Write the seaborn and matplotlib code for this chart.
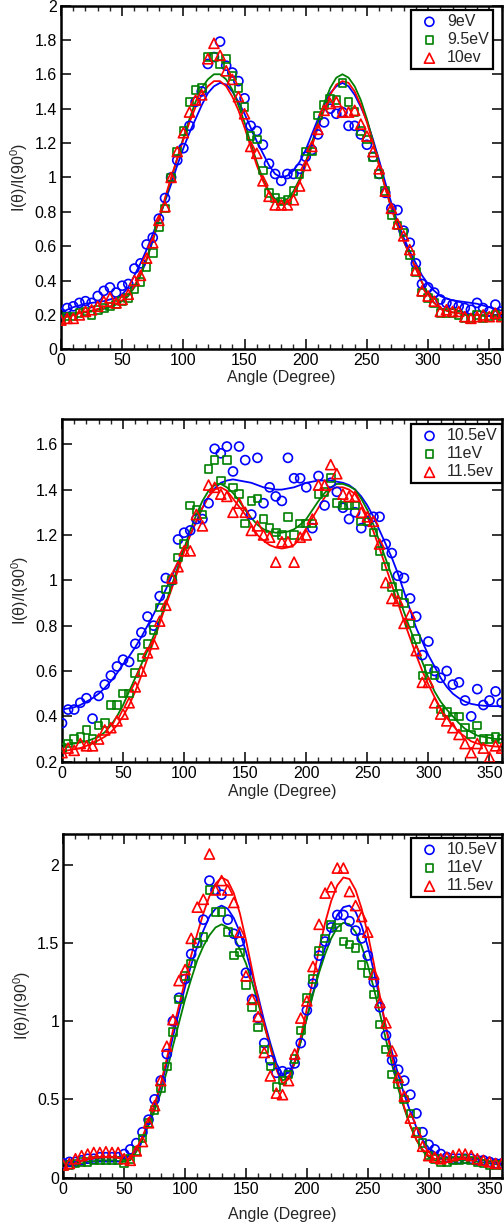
import numpy as np
import pandas as pd
import matplotlib
matplotlib.use("Agg")
import matplotlib.pyplot as plt
import seaborn as sns
from matplotlib.ticker import MultipleLocator, FixedLocator

sns.set_style("ticks")
plt.rcParams["font.family"] = ["Liberation Sans", "DejaVu Sans"]
plt.rcParams["mathtext.fontset"] = "custom"
plt.rcParams["mathtext.rm"] = "Liberation Sans"
plt.rcParams["mathtext.it"] = "Liberation Sans:italic"

angle = list(range(0, 361, 5))

# ---------------- Panel 1 ----------------
p1_labels = ["9eV", "9.5eV", "10ev"]
p1_pts_a = [0.21, 0.24, 0.25, 0.27, 0.28, 0.27, 0.31, 0.34, 0.36, 0.33, 0.37, 0.38, 0.47, 0.50, 0.61, 0.65, 0.76, 0.88, 1.00,
            1.10, 1.17, 1.30, 1.44, 1.50, 1.66, 1.70, 1.79, 1.65, 1.61, 1.56, 1.46, 1.30, 1.27, 1.19, 1.08, 1.02, 0.98,
            1.02, 1.02, 1.05, 1.12, 1.16, 1.25, 1.32, 1.40, 1.37, 1.38, 1.30, 1.30, 1.25, 1.19, 1.12, 1.02, 0.91, 0.82,
            0.81, 0.69, 0.62, 0.50, 0.38, 0.36, 0.33, 0.29, 0.27, 0.26, 0.25, 0.24, 0.23, 0.27, 0.24, 0.22, 0.26, 0.22]
p1_pts_b = [0.17, 0.19, 0.19, 0.21, 0.22, 0.20, 0.23, 0.24, 0.25, 0.26, 0.28, 0.30, 0.35, 0.39, 0.48, 0.56, 0.71, 0.82, 1.00,
            1.15, 1.27, 1.44, 1.51, 1.52, 1.70, 1.70, 1.66, 1.69, 1.59, 1.52, 1.41, 1.24, 1.22, 1.04, 0.91, 0.88, 0.86,
            0.87, 0.92, 1.02, 1.15, 1.15, 1.36, 1.42, 1.46, 1.45, 1.55, 1.44, 1.38, 1.27, 1.22, 1.12, 1.02, 0.92, 0.78,
            0.72, 0.68, 0.55, 0.45, 0.33, 0.30, 0.27, 0.21, 0.21, 0.21, 0.20, 0.18, 0.18, 0.20, 0.18, 0.19, 0.20, 0.19]
p1_pts_c = [0.17, 0.18, 0.18, 0.20, 0.22, 0.23, 0.25, 0.28, 0.30, 0.27, 0.29, 0.32, 0.40, 0.43, 0.53, 0.62, 0.75, 0.83, 1.00,
            1.15, 1.26, 1.38, 1.45, 1.48, 1.69, 1.78, 1.71, 1.62, 1.57, 1.47, 1.37, 1.18, 1.14, 0.98, 0.89, 0.84, 0.84,
            0.84, 0.87, 0.95, 1.07, 1.18, 1.28, 1.39, 1.43, 1.44, 1.38, 1.38, 1.39, 1.31, 1.24, 1.15, 1.05, 0.92, 0.82,
            0.73, 0.66, 0.58, 0.46, 0.34, 0.31, 0.28, 0.22, 0.23, 0.22, 0.22, 0.19, 0.18, 0.19, 0.20, 0.19, 0.21, 0.19]
p1_fit_a = [0.21, 0.23, 0.245, 0.255, 0.265, 0.27, 0.275, 0.28, 0.29, 0.30, 0.32, 0.36, 0.43, 0.50, 0.58, 0.67, 0.76, 0.86, 0.96,
            1.07, 1.17, 1.26, 1.34, 1.42, 1.49, 1.53, 1.55, 1.54, 1.50, 1.44, 1.37, 1.29, 1.21, 1.14, 1.07, 1.02, 1.00,
            1.01, 1.04, 1.09, 1.16, 1.25, 1.34, 1.42, 1.49, 1.53, 1.55, 1.53, 1.48, 1.41, 1.33, 1.22, 1.10, 0.97, 0.85,
            0.74, 0.65, 0.57, 0.50, 0.43, 0.38, 0.34, 0.31, 0.295, 0.285, 0.28, 0.275, 0.27, 0.265, 0.255, 0.245, 0.235, 0.225]
p1_fit_b = [0.18, 0.19, 0.20, 0.21, 0.215, 0.22, 0.23, 0.235, 0.245, 0.26, 0.28, 0.31, 0.36, 0.43, 0.52, 0.63, 0.75, 0.87, 0.99,
            1.11, 1.23, 1.34, 1.44, 1.52, 1.57, 1.60, 1.60, 1.57, 1.51, 1.42, 1.32, 1.20, 1.09, 0.99, 0.92, 0.875, 0.86,
            0.875, 0.92, 0.99, 1.09, 1.20, 1.32, 1.43, 1.52, 1.58, 1.60, 1.58, 1.53, 1.45, 1.34, 1.21, 1.07, 0.94, 0.82,
            0.72, 0.63, 0.55, 0.47, 0.39, 0.32, 0.27, 0.24, 0.225, 0.215, 0.21, 0.205, 0.20, 0.20, 0.195, 0.195, 0.19, 0.19]
p1_fit_c = [0.18, 0.19, 0.20, 0.21, 0.22, 0.225, 0.235, 0.24, 0.25, 0.265, 0.285, 0.32, 0.37, 0.44, 0.53, 0.64, 0.76, 0.88, 1.00,
            1.11, 1.22, 1.32, 1.41, 1.48, 1.53, 1.56, 1.56, 1.53, 1.47, 1.39, 1.29, 1.18, 1.07, 0.98, 0.91, 0.86, 0.845,
            0.855, 0.90, 0.97, 1.07, 1.18, 1.29, 1.39, 1.48, 1.54, 1.56, 1.55, 1.50, 1.42, 1.32, 1.20, 1.07, 0.94, 0.82,
            0.72, 0.63, 0.55, 0.47, 0.39, 0.32, 0.27, 0.24, 0.225, 0.215, 0.21, 0.205, 0.20, 0.20, 0.195, 0.195, 0.19, 0.19]

# ---------------- Panel 2 ----------------
p2_labels = ["10.5eV", "11eV", "11.5ev"]
p2_pts_a = [0.37, 0.43, 0.43, 0.46, 0.48, 0.39, 0.49, 0.54, 0.58, 0.62, 0.65, 0.64, 0.72, 0.77, 0.84, 0.80, 0.93, 1.01, 1.00,
            1.18, 1.21, 1.22, 1.27, 1.27, 1.34, 1.58, 1.56, 1.59, 1.48, 1.59, 1.53, 1.29, 1.54, 1.34, 1.41, 1.37, 1.35,
            1.54, 1.45, 1.45, 1.41, 1.23, 1.46, 1.33, 1.43, 1.39, 1.32, 1.27, 1.30, 1.23, 1.26, 1.28, 1.28, 1.16, 1.12,
            1.02, 1.01, 0.92, 0.84, 0.67, 0.73, 0.60, 0.57, 0.60, 0.54, 0.55, 0.47, 0.40, 0.52, 0.45, 0.47, 0.51, 0.46]
p2_pts_b = [0.26, 0.28, 0.30, 0.31, 0.34, 0.30, 0.36, 0.37, 0.45, 0.45, 0.50, 0.50, 0.59, 0.66, 0.72, 0.78, 0.88, 0.96, 1.00,
            1.10, 1.16, 1.33, 1.31, 1.29, 1.49, 1.53, 1.44, 1.53, 1.41, 1.38, 1.25, 1.35, 1.36, 1.27, 1.23, 1.21, 1.20,
            1.28, 1.20, 1.25, 1.25, 1.25, 1.38, 1.39, 1.45, 1.34, 1.33, 1.33, 1.33, 1.26, 1.26, 1.21, 1.13, 1.06, 0.97,
            0.94, 0.90, 0.81, 0.74, 0.58, 0.61, 0.58, 0.43, 0.42, 0.40, 0.40, 0.35, 0.32, 0.36, 0.30, 0.30, 0.31, 0.30]
p2_pts_c = [0.24, 0.26, 0.25, 0.28, 0.27, 0.27, 0.30, 0.34, 0.35, 0.38, 0.41, 0.46, 0.53, 0.60, 0.68, 0.72, 0.82, 0.89, 1.01,
            1.06, 1.13, 1.13, 1.29, 1.24, 1.42, 1.41, 1.38, 1.37, 1.30, 1.34, 1.30, 1.22, 1.24, 1.20, 1.19, 1.08, 1.17,
            1.17, 1.08, 1.19, 1.20, 1.27, 1.42, 1.42, 1.51, 1.47, 1.38, 1.37, 1.37, 1.30, 1.28, 1.26, 1.16, 0.99, 0.92,
            0.91, 0.81, 0.85, 0.69, 0.55, 0.55, 0.46, 0.41, 0.38, 0.35, 0.32, 0.28, 0.24, 0.28, 0.26, 0.22, 0.27, 0.26]
p2_fit_a = [0.43, 0.435, 0.44, 0.45, 0.465, 0.48, 0.50, 0.525, 0.555, 0.59, 0.63, 0.665, 0.705, 0.75, 0.80, 0.85, 0.905, 0.96, 1.02,
            1.08, 1.14, 1.20, 1.26, 1.32, 1.37, 1.405, 1.43, 1.44, 1.445, 1.44, 1.435, 1.43, 1.42, 1.41, 1.405, 1.40, 1.40,
            1.405, 1.41, 1.42, 1.43, 1.435, 1.44, 1.44, 1.44, 1.435, 1.43, 1.42, 1.40, 1.37, 1.33, 1.28, 1.22, 1.16, 1.10,
            1.03, 0.95, 0.87, 0.79, 0.73, 0.67, 0.62, 0.57, 0.53, 0.50, 0.48, 0.465, 0.455, 0.45, 0.447, 0.445, 0.445, 0.445]
p2_fit_b = [0.27, 0.275, 0.28, 0.285, 0.29, 0.30, 0.31, 0.33, 0.36, 0.40, 0.45, 0.51, 0.57, 0.63, 0.69, 0.755, 0.825, 0.90, 0.98,
            1.06, 1.14, 1.22, 1.29, 1.35, 1.395, 1.42, 1.425, 1.41, 1.385, 1.35, 1.31, 1.275, 1.245, 1.225, 1.215, 1.21, 1.21,
            1.215, 1.225, 1.245, 1.27, 1.31, 1.35, 1.385, 1.41, 1.425, 1.425, 1.415, 1.40, 1.36, 1.31, 1.245, 1.17, 1.095, 1.02,
            0.94, 0.86, 0.785, 0.715, 0.64, 0.57, 0.51, 0.465, 0.43, 0.40, 0.37, 0.345, 0.33, 0.315, 0.31, 0.305, 0.30, 0.30]
p2_fit_c = [0.245, 0.25, 0.255, 0.26, 0.27, 0.28, 0.295, 0.31, 0.33, 0.36, 0.40, 0.45, 0.51, 0.58, 0.655, 0.73, 0.81, 0.89, 0.965,
            1.045, 1.125, 1.20, 1.26, 1.32, 1.37, 1.40, 1.41, 1.395, 1.36, 1.325, 1.29, 1.245, 1.20, 1.175, 1.155, 1.145, 1.14,
            1.145, 1.156, 1.185, 1.23, 1.275, 1.32, 1.365, 1.40, 1.41, 1.41, 1.40, 1.38, 1.335, 1.28, 1.215, 1.14, 1.06, 0.98,
            0.90, 0.82, 0.745, 0.67, 0.60, 0.54, 0.485, 0.435, 0.395, 0.36, 0.33, 0.31, 0.29, 0.28, 0.275, 0.27, 0.267, 0.266]

# ---------------- Panel 3 ----------------
p3_labels = ["10.5eV", "11eV", "11.5ev"]
p3_pts_a = [0.09, 0.10, 0.10, 0.11, 0.12, 0.12, 0.13, 0.13, 0.13, 0.13, 0.15, 0.18, 0.22, 0.29, 0.37, 0.50, 0.62, 0.79, 1.00,
            1.15, 1.27, 1.43, 1.50, 1.65, 1.90, 1.84, 1.81, 1.65, 1.56, 1.51, 1.31, 1.14, 1.02, 0.86, 0.75, 0.67, 0.68,
            0.67, 0.73, 0.86, 1.07, 1.24, 1.42, 1.51, 1.60, 1.68, 1.68, 1.64, 1.58, 1.53, 1.42, 1.25, 1.09, 0.91, 0.75,
            0.69, 0.62, 0.53, 0.41, 0.29, 0.21, 0.18, 0.15, 0.13, 0.12, 0.12, 0.12, 0.12, 0.11, 0.11, 0.10, 0.09, 0.09]
p3_pts_b = [0.07, 0.08, 0.09, 0.10, 0.10, 0.11, 0.11, 0.11, 0.11, 0.11, 0.09, 0.12, 0.17, 0.25, 0.35, 0.43, 0.57, 0.71, 0.93,
            1.14, 1.29, 1.37, 1.50, 1.54, 1.84, 1.70, 1.70, 1.57, 1.42, 1.44, 1.23, 1.09, 0.96, 0.82, 0.71, 0.58, 0.62,
            0.66, 0.76, 0.94, 1.15, 1.27, 1.45, 1.53, 1.62, 1.60, 1.51, 1.49, 1.47, 1.36, 1.31, 1.17, 0.98, 0.82, 0.66,
            0.60, 0.50, 0.41, 0.29, 0.22, 0.14, 0.12, 0.10, 0.10, 0.11, 0.11, 0.12, 0.11, 0.10, 0.09, 0.08, 0.08, 0.08]
p3_pts_c = [0.08, 0.09, 0.12, 0.14, 0.15, 0.16, 0.16, 0.165, 0.16, 0.16, 0.12, 0.11, 0.17, 0.23, 0.35, 0.46, 0.62, 0.84, 1.01,
            1.26, 1.33, 1.53, 1.73, 1.78, 2.07, 1.84, 1.90, 1.84, 1.76, 1.57, 1.29, 1.14, 1.03, 0.80, 0.65, 0.54, 0.53,
            0.62, 0.79, 1.02, 1.13, 1.35, 1.62, 1.82, 1.86, 1.98, 1.98, 1.83, 1.74, 1.67, 1.57, 1.30, 1.12, 0.99, 0.81,
            0.64, 0.52, 0.38, 0.29, 0.20, 0.14, 0.13, 0.12, 0.13, 0.14, 0.15, 0.15, 0.14, 0.12, 0.11, 0.10, 0.09, 0.09]
p3_fit_a = [0.09, 0.095, 0.10, 0.11, 0.115, 0.12, 0.125, 0.13, 0.13, 0.13, 0.13, 0.14, 0.18, 0.25, 0.35, 0.46, 0.58, 0.73, 0.90,
            1.06, 1.22, 1.36, 1.48, 1.58, 1.67, 1.72, 1.74, 1.72, 1.66, 1.57, 1.445, 1.30, 1.16, 1.00, 0.86, 0.73, 0.66,
            0.67, 0.74, 0.87, 1.02, 1.18, 1.33, 1.47, 1.59, 1.68, 1.73, 1.74, 1.70, 1.61, 1.48, 1.32, 1.14, 0.96, 0.80,
            0.66, 0.53, 0.42, 0.32, 0.24, 0.19, 0.16, 0.14, 0.13, 0.125, 0.12, 0.12, 0.12, 0.115, 0.11, 0.10, 0.095, 0.09]
p3_fit_b = [0.07, 0.075, 0.08, 0.09, 0.10, 0.105, 0.11, 0.11, 0.11, 0.105, 0.10, 0.11, 0.165, 0.24, 0.335, 0.43, 0.54, 0.68, 0.84,
            0.99, 1.14, 1.27, 1.39, 1.48, 1.55, 1.60, 1.62, 1.60, 1.54, 1.46, 1.37, 1.25, 1.115, 0.97, 0.84, 0.70, 0.62,
            0.64, 0.73, 0.87, 1.02, 1.17, 1.31, 1.43, 1.53, 1.60, 1.63, 1.62, 1.57, 1.48, 1.36, 1.21, 1.05, 0.88, 0.72,
            0.57, 0.44, 0.33, 0.24, 0.17, 0.13, 0.11, 0.10, 0.10, 0.105, 0.11, 0.11, 0.11, 0.10, 0.095, 0.09, 0.085, 0.08]
p3_fit_c = [0.08, 0.085, 0.095, 0.105, 0.115, 0.125, 0.13, 0.13, 0.13, 0.125, 0.115, 0.12, 0.18, 0.26, 0.36, 0.47, 0.60, 0.76, 0.94,
            1.10, 1.26, 1.42, 1.56, 1.69, 1.80, 1.88, 1.92, 1.90, 1.82, 1.69, 1.52, 1.33, 1.14, 0.98, 0.83, 0.69, 0.60,
            0.63, 0.74, 0.90, 1.08, 1.27, 1.46, 1.63, 1.77, 1.87, 1.92, 1.91, 1.84, 1.72, 1.56, 1.37, 1.16, 0.96, 0.77,
            0.60, 0.45, 0.33, 0.24, 0.18, 0.14, 0.12, 0.115, 0.115, 0.12, 0.125, 0.13, 0.125, 0.12, 0.11, 0.10, 0.09, 0.085]

p1_yticks = [0, 0.2, 0.4, 0.6, 0.8, 1, 1.2, 1.4, 1.6, 1.8, 2]
p1_yticklabels = ["0", "0.2", "0.4", "0.6", "0.8", "1", "1.2", "1.4", "1.6", "1.8", "2"]
p2_yticks = [0.2, 0.4, 0.6, 0.8, 1, 1.2, 1.4, 1.6]
p2_yticklabels = ["0.2", "0.4", "0.6", "0.8", "1", "1.2", "1.4", "1.6"]
p3_yticks = [0, 0.5, 1, 1.5, 2]
p3_yticklabels = ["0", "0.5", "1", "1.5", "2"]
xticks = [0, 50, 100, 150, 200, 250, 300, 350]
xticklabels = ["0", "50", "100", "150", "200", "250", "300", "350"]

colors = ["#0000ff", "#008000", "#ff0000"]
markers = ["o", "s", "^"]
msizes = [42, 30, 52]

W, H = 504, 1230
fig = plt.figure(figsize=(W / 100, H / 100), dpi=100)

panels = [
    dict(rect=[61, 5.5, 501.5, 349.3], labels=p1_labels, pts=[p1_pts_a, p1_pts_b, p1_pts_c],
         fits=[p1_fit_a, p1_fit_b, p1_fit_c], yt=p1_yticks, ytl=p1_yticklabels, ylim=(0, 2),
         leg=(0.98, 0.987), xpad=1.0),
    dict(rect=[62, 419.3, 501.7, 761.7], labels=p2_labels, pts=[p2_pts_a, p2_pts_b, p2_pts_c],
         fits=[p2_fit_a, p2_fit_b, p2_fit_c], yt=p2_yticks, ytl=p2_yticklabels, ylim=(0.2, 1.71),
         leg=(1.0, 0.986), xpad=2.0),
    dict(rect=[63.3, 833.7, 501.7, 1177.5], labels=p3_labels, pts=[p3_pts_a, p3_pts_b, p3_pts_c],
         fits=[p3_fit_a, p3_fit_b, p3_fit_c], yt=p3_yticks, ytl=p3_yticklabels, ylim=(0, 2.2),
         leg=(1.0, 0.9875), xpad=7.5),
]

fs = 11.5
for P in panels:
    l, t, r, b = P["rect"]
    ax = fig.add_axes([l / W, 1 - b / H, (r - l) / W, (b - t) / H])
    for lab, pts, fit, col, mk, ms in zip(P["labels"], P["pts"], P["fits"], colors, markers, msizes):
        assert len(pts) == len(angle) and len(fit) == len(angle)
        sns.lineplot(x=angle, y=fit, ax=ax, color=col, linewidth=1.3, legend=False, zorder=2)
        sns.scatterplot(x=angle, y=pts, ax=ax, marker=mk, s=ms, facecolor="none", edgecolor=col,
                        linewidth=1.2, label=lab, zorder=3, clip_on=True)
    ax.set_xlim(0, 360)
    ax.set_ylim(*P["ylim"])
    ax.xaxis.set_major_locator(FixedLocator(xticks))
    ax.set_xticklabels(xticklabels)
    ax.xaxis.set_minor_locator(MultipleLocator(10))
    ax.yaxis.set_major_locator(FixedLocator(P["yt"]))
    ax.set_yticklabels(P["ytl"])
    ax.tick_params(which="major", direction="in", top=True, right=True, length=7, width=1.1,
                   labelsize=fs, pad=3, colors="black")
    ax.tick_params(which="minor", direction="in", top=True, bottom=True, left=False, right=False,
                   length=3.5, width=1.0)
    for sp in ax.spines.values():
        sp.set_linewidth(1.8)
        sp.set_color("black")
    ax.set_xlabel("Angle (Degree)", fontsize=fs, labelpad=P["xpad"])
    ax.set_ylabel("I(θ)/I(90$^\\mathrm{0}$)", fontsize=fs, labelpad=3)
    leg = ax.legend(loc="upper right", bbox_to_anchor=P["leg"], borderaxespad=0, fontsize=fs,
                    frameon=True, fancybox=False, framealpha=1, edgecolor="black",
                    borderpad=0.25, labelspacing=0.2, handlelength=1.8, handletextpad=0.2,
                    scatterpoints=1)
    leg.get_frame().set_linewidth(1.6)
    ax.set_facecolor("white")

fig.savefig("out.png", dpi=100)
